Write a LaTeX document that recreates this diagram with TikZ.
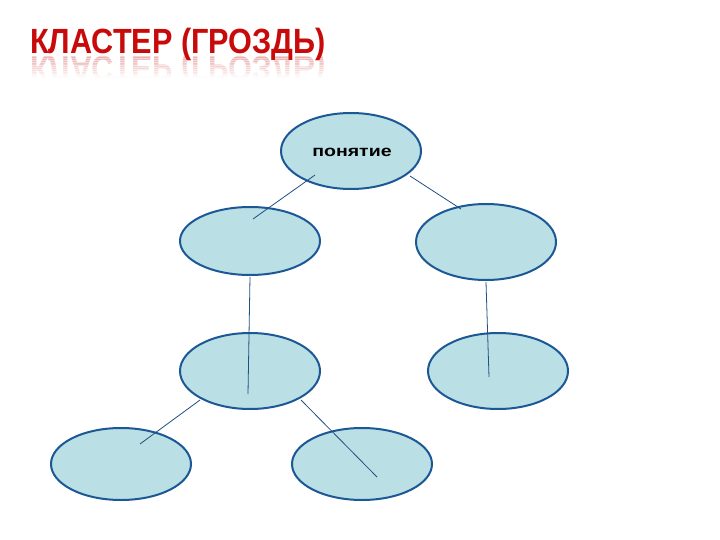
\documentclass[tikz,border=0pt]{standalone}
\usepackage{fontspec}
\setmainfont{Liberation Sans}
\usetikzlibrary{shapes.geometric}
\definecolor{ellfill}{RGB}{186,223,228}
\definecolor{elldraw}{RGB}{28,87,150}
\definecolor{conn}{RGB}{35,80,130}
\definecolor{titlered}{RGB}{200,10,10}
\tikzset{
  cell/.style={ellipse, draw=elldraw, fill=ellfill, line width=2pt, inner sep=0pt, minimum width=140pt, minimum height=76pt},
  link/.style={draw=conn, line width=0.8pt},
  titletext/.style={font=\bfseries\fontsize{35}{35}\selectfont, text=titlered, inner sep=0pt, xscale=0.875, anchor=base west},
  celltext/.style={font=\bfseries\fontsize{15.5}{15.5}\selectfont, inner sep=0pt, xscale=1.26, anchor=base}
}
\begin{document}
\begin{tikzpicture}[x=1pt,y=-1pt]
\path[fill=white] (0,0) rectangle (720,540);
\useasboundingbox (0,0) rectangle (720,540);
% title
\node[titletext] (title) at (30,54) {КЛАСТЕР (ГРОЗДЬ)};
\foreach \i in {0,...,11}{
  \begin{scope}
    \clip (20,{56+1.8*\i}) rectangle (340,{56+1.8*(\i+1)});
    \node[titletext, yscale=-1, opacity={0.18*(1-\i/12)}] at (30,57) {КЛАСТЕР (ГРОЗДЬ)};
  \end{scope}
}
% ellipses
\node[cell] (top) at (351,151) {};
\node[celltext] (toptext) at (352,157) {понятие};
\node[cell, minimum height=68pt] (ml) at (250,241) {};
\node[cell] (mr) at (486,242) {};
\node[cell] (rl) at (250,371) {};
\node[cell] (rr) at (498,371) {};
\node[cell, minimum height=72pt] (bl) at (121,464) {};
\node[cell, minimum height=72pt] (br) at (362,464) {};
% connector end points
\coordinate (a1) at (315,175); \coordinate (a2) at (253,219);
\coordinate (b1) at (410,176); \coordinate (b2) at (461,209);
\coordinate (c1) at (250,277); \coordinate (c2) at (248,394);
\coordinate (d1) at (486,282); \coordinate (d2) at (489,377);
\coordinate (e1) at (200,400); \coordinate (e2) at (140,444);
\coordinate (f1) at (301,400); \coordinate (f2) at (377,477);
\draw[link] (a1) -- (a2);
\draw[link] (b1) -- (b2);
\draw[link] (c1) -- (c2);
\draw[link] (d1) -- (d2);
\draw[link] (e1) -- (e2);
\draw[link] (f1) -- (f2);
\end{tikzpicture}
\end{document}
